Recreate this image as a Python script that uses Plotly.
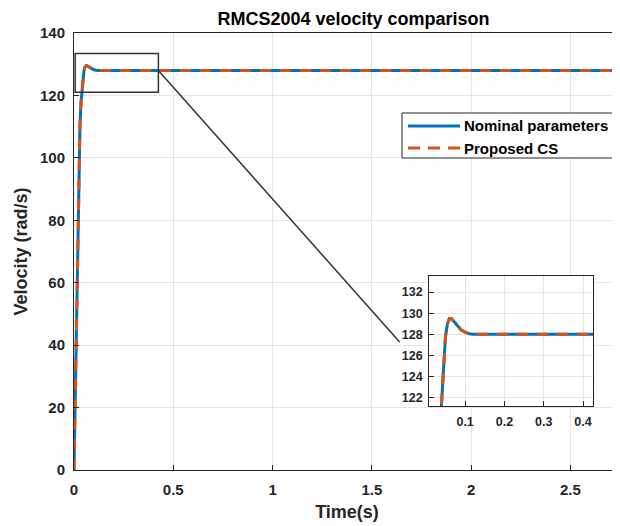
import plotly.graph_objects as go

# ---- data ----
time_s = [0, 0.005, 0.01, 0.015, 0.02, 0.025, 0.03, 0.035, 0.04, 0.045, 0.05,
          0.055, 0.06, 0.065, 0.07, 0.08, 0.09, 0.1, 0.11, 0.12, 0.13, 0.2, 1.0, 2.0, 2.76]
nominal = [0, 20, 42, 63, 82, 98, 110, 117.5, 121.5, 125.0, 127.8,
           129.0, 129.5, 129.5, 129.3, 128.8, 128.4, 128.2, 128.05, 128.0, 128.0, 128, 128, 128, 128]
proposed = [0, 20, 42, 63, 82, 98, 110, 117.5, 121.5, 125.0, 127.8,
            129.0, 129.5, 129.5, 129.3, 128.8, 128.4, 128.2, 128.05, 128.0, 128.0, 128, 128, 128, 128]
series_names = ["Nominal parameters", "Proposed CS"]

main_xticks = [0, 0.5, 1, 1.5, 2, 2.5]
main_yticks = [0, 20, 40, 60, 80, 100, 120, 140]
inset_xticks = [0.1, 0.2, 0.3, 0.4]
inset_yticks = [122, 124, 126, 128, 130, 132]

BLUE = "#0072BD"
ORANGE = "#D95319"
FONT = "Liberation Sans"
DASH = "11px,9px"
INK = "#262626"

fig = go.Figure()
for xa, ya in [("x", "y"), ("x2", "y2")]:
    fig.add_trace(go.Scatter(x=time_s, y=nominal, mode="lines", name=series_names[0],
                             line=dict(color=BLUE, width=3), xaxis=xa, yaxis=ya, showlegend=False))
    fig.add_trace(go.Scatter(x=time_s, y=proposed, mode="lines", name=series_names[1],
                             line=dict(color=ORANGE, width=3, dash=DASH),
                             xaxis=xa, yaxis=ya, showlegend=False))


def axis_style(size, standoff):
    return dict(showgrid=True, gridcolor="#e4e4e4", gridwidth=1, zeroline=False,
                showline=True, linecolor=INK, linewidth=1, ticks="inside",
                ticklen=5, tickcolor=INK, automargin=False, ticklabelstandoff=standoff,
                tickfont=dict(family=FONT, size=size, color=INK, weight="bold"))


W, H = 612, 518
fig.update_layout(
    width=W, height=H,
    margin=dict(l=66, r=0, t=25, b=56),
    paper_bgcolor="white", plot_bgcolor="white",
    title=dict(text="RMCS2004 velocity comparison", x=345.5 / W, xanchor="center",
               xref="container", y=1 - 11 / H, yanchor="middle", yref="container",
               font=dict(family=FONT, size=18, color="#000", weight="bold")),
    xaxis=dict(range=[0, 2.75], tickvals=main_xticks, mirror=True, domain=[0, 1],
               title=dict(text="Time(s)", standoff=8,
                          font=dict(family=FONT, size=18, color=INK, weight="bold")),
               **axis_style(15, 6)),
    yaxis=dict(range=[0, 140], tickvals=main_yticks, mirror=False, domain=[0, 1],
               title=dict(text="Velocity (rad/s)", standoff=7,
                          font=dict(family=FONT, size=18, color=INK, weight="bold")),
               **axis_style(15, 5)),
    xaxis2=dict(range=[0.0085, 0.4254], tickvals=inset_xticks, mirror=True,
                domain=[0.6505, 0.9506], anchor="y2", **axis_style(12.5, 4)),
    yaxis2=dict(range=[121.18, 133.49], tickvals=inset_yticks, mirror=True,
                domain=[0.146, 0.443], anchor="x2", **axis_style(12.5, 3)),
    showlegend=False,
)


# screenshot pixel -> paper coordinates (page has an 8px body margin)
def px(xs):
    return (xs - 74) / 546


def py(ys):
    return (470 - ys) / 437


# white background for inset, hiding the main grid under it
fig.add_shape(type="rect", xref="x2 domain", yref="y2 domain", x0=0, x1=1, y0=0, y1=1,
              fillcolor="white", line=dict(width=0), layer="below")
# zoom rectangle on the main plot
fig.add_shape(type="rect", xref="x", yref="y", x0=0.006, x1=0.425, y0=121.0, y1=133.4,
              line=dict(color="#333333", width=1.5), fillcolor="rgba(0,0,0,0)")
# connector line
fig.add_shape(type="line", xref="x", yref="y", x0=0.425, y0=128, x1=1.64, y1=41,
              line=dict(color="#333333", width=1.5))

# legend box (drawn by hand to match the reference sample lengths)
fig.add_shape(type="rect", xref="paper", yref="paper", x0=px(402), x1=px(618),
              y0=py(158), y1=py(113), fillcolor="white", line=dict(color=INK, width=1))
for i, (name, col, dash) in enumerate([(series_names[0], BLUE, "solid"),
                                       (series_names[1], ORANGE, "12px,8px")]):
    yy = py(126 + 22 * i)
    fig.add_shape(type="line", xref="paper", yref="paper", x0=px(408), x1=px(460),
                  y0=yy, y1=yy, line=dict(color=col, width=3, dash=dash))
    fig.add_annotation(text=name, xref="paper", yref="paper", x=px(462), y=yy,
                       xanchor="left", yanchor="middle", showarrow=False,
                       font=dict(family=FONT, size=15, color="#000", weight="bold"))

fig.write_html("out.html")
